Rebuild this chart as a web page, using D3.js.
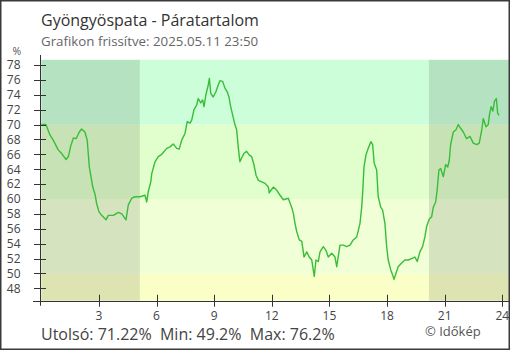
<!DOCTYPE html>
<html><head><meta charset="utf-8">
<script src="https://cdn.jsdelivr.net/npm/d3@7"></script>
<style>html,body{margin:0;padding:0;background:#fff}svg{display:block}text{font-family:"Open Sans",sans-serif}</style>
</head><body><svg id="c" width="510" height="350"></svg>
<script>
const title = "Gyöngyöspata - Páratartalom";
const subtitle = "Grafikon frissítve: 2025.05.11 23:50";
const hours = [0,0.24,0.45,0.62,0.88,1.06,1.29,1.41,1.53,1.67,1.81,1.98,2.10,2.27,2.39,2.50,2.68,2.80,2.88,3.00,3.14,3.37,3.49,3.75,4.01,4.19,4.41,4.53,4.71,4.88,5.14,5.40,5.49,5.57,5.70,5.75,5.92,6.09,6.27,6.53,6.70,6.87,7.05,7.18,7.31,7.48,7.60,7.74,7.83,7.95,8.09,8.17,8.30,8.40,8.47,8.57,8.69,8.75,8.82,8.95,9.09,9.21,9.30,9.44,9.56,9.68,9.77,9.86,9.96,10.08,10.17,10.26,10.34,10.43,10.55,10.69,10.83,10.95,11.07,11.18,11.30,11.47,11.65,11.82,11.87,11.91,12.08,12.25,12.43,12.60,12.86,13.03,13.12,13.21,13.30,13.43,13.56,13.68,13.82,13.95,14.08,14.21,14.30,14.42,14.51,14.68,14.82,14.94,15.12,15.29,15.38,15.55,15.72,15.90,16.07,16.24,16.42,16.59,16.68,16.73,16.80,16.90,17.02,17.16,17.25,17.33,17.46,17.54,17.67,17.77,17.89,17.98,18.06,18.19,18.29,18.36,18.46,18.58,18.76,18.93,19.10,19.28,19.45,19.57,19.71,19.85,19.97,20.06,20.20,20.32,20.41,20.53,20.61,20.70,20.79,20.93,21.05,21.16,21.24,21.31,21.45,21.59,21.71,21.83,21.97,22.14,22.32,22.49,22.67,22.80,22.93,23.01,23.15,23.27,23.33,23.42,23.51,23.59,23.69,23.76,23.83];
const humidity = [70.0,70.0,68.6,67.9,66.6,66.1,65.3,65.7,67.1,68.2,68.1,69.0,69.4,69.0,67.9,64.3,61.6,60.6,59.4,58.3,57.8,57.2,57.8,57.8,58.2,58.0,57.2,59.2,60.1,60.3,60.3,60.5,59.6,61.0,62.3,63.4,65.0,65.7,66.0,66.8,67.0,67.4,66.8,66.7,67.9,68.8,70.4,70.2,70.6,72.0,72.6,73.5,72.9,73.3,72.4,74.0,75.3,76.2,74.2,73.7,74.4,75.3,75.9,75.8,74.9,74.4,73.7,72.4,71.3,70.0,69.3,66.8,65.0,65.5,66.1,66.4,65.9,65.7,64.6,63.2,62.5,62.3,62.1,61.6,60.8,61.0,61.6,61.2,60.5,59.9,60.1,58.9,58.1,56.7,55.6,54.5,54.3,52.2,52.9,52.2,51.8,49.6,51.8,51.6,52.9,53.6,53.1,52.2,52.7,52.2,50.9,53.8,53.8,53.6,53.8,54.5,54.9,56.7,58.9,60.8,64.3,65.9,66.8,67.7,67.3,64.8,63.9,60.3,58.9,58.5,56.7,53.6,51.8,50.5,49.8,49.2,50.0,50.9,51.4,51.8,51.8,52.0,52.2,51.6,52.9,53.6,54.9,56.3,57.3,57.6,58.9,59.6,61.2,63.9,64.1,63.0,64.6,64.3,65.2,67.3,69.0,69.3,70.0,69.5,69.0,68.1,68.4,67.5,67.3,67.5,69.3,70.8,69.7,70.0,71.3,72.4,71.8,73.1,73.5,71.5,71.22];
const yTicks = [48,50,52,54,56,58,60,62,64,66,68,70,72,74,76,78];
const xTicks = [3,6,9,12,15,18,21,24];
const bandLimits = [46.33,50,60,70,78.7];
const bandColors = ["#faffc8","#f0ffd6","#e0ffcc","#ccffd9"];
const nights = [[0,5.13],[20.18,24.34]];
const statsText = "Utolsó: 71.22%  Min: 49.2%  Max: 76.2%";
const credit = "© Időkép";

const svg = d3.select("#c");
const x = d3.scaleLinear().domain([0,24]).range([41.3,502.3]);
const y = d3.scaleLinear().domain([48,78]).range([288.3,65]);
const xMax = 24.34, yMin = 46.33, yMax = 78.7;

for (let i=0;i<bandColors.length;i++){
  svg.append("rect").attr("x",x(0)).attr("width",x(xMax)-x(0))
    .attr("y",y(bandLimits[i+1])).attr("height",y(bandLimits[i])-y(bandLimits[i+1]))
    .attr("fill",bandColors[i]);
}
nights.forEach(n=>{
  svg.append("rect").attr("x",x(n[0])).attr("width",x(n[1])-x(n[0]))
    .attr("y",y(yMax)).attr("height",y(yMin)-y(yMax)).attr("fill","#000").attr("fill-opacity",0.11);
});
const data = hours.map((h,i)=>[h,humidity[i]]);
svg.append("path").datum(data).attr("fill","none").attr("stroke","#38bd38").attr("stroke-width",1.4)
  .attr("stroke-linejoin","round")
  .attr("d",d3.line().x(d=>x(d[0])).y(d=>y(d[1])));

const ax = "#333";
svg.append("line").attr("x1",40.5).attr("x2",40.5).attr("y1",55).attr("y2",y(yMin)+5).attr("stroke",ax);
svg.append("line").attr("x1",33).attr("x2",510).attr("y1",Math.round(y(yMin))+0.5).attr("y2",Math.round(y(yMin))+0.5).attr("stroke",ax);
const gy = svg.append("g");
yTicks.forEach(t=>{
  gy.append("line").attr("x1",34).attr("x2",46).attr("y1",Math.round(y(t))+0.5).attr("y2",Math.round(y(t))+0.5).attr("stroke",ax);
  gy.append("text").attr("x",20.5).attr("y",y(t)+4.3).attr("text-anchor","end").attr("font-size",12).attr("fill","#444").text(t);
});
const gx = svg.append("g");
xTicks.forEach(t=>{
  gx.append("line").attr("x1",Math.round(x(t))+0.5).attr("x2",Math.round(x(t))+0.5).attr("y1",y(yMin)-6).attr("y2",y(yMin)+6).attr("stroke",ax);
  gx.append("text").attr("x",x(t)).attr("y",319.5).attr("text-anchor","middle").attr("font-size",12).attr("fill","#444").text(t);
});
svg.append("text").attr("x",12.5).attr("y",55).attr("font-size",10.5).attr("fill","#555").text("%");

svg.append("text").attr("x",41).attr("y",26).attr("font-size",16).attr("fill","#333").text(title);
svg.append("text").attr("x",41).attr("y",46).attr("font-size",13.3).attr("fill","#666").text(subtitle);
svg.append("text").attr("x",41).attr("y",340).attr("font-size",16).attr("fill","#444").style("white-space","pre").text(statsText);
svg.append("text").attr("x",425).attr("y",336).attr("font-size",13).attr("fill","#555").text(credit);

svg.append("rect").attr("x",0.75).attr("y",0.75).attr("width",508.5).attr("height",348.5).attr("fill","none").attr("stroke","#3a3a3a").attr("stroke-width",1.5);
</script></body></html>
